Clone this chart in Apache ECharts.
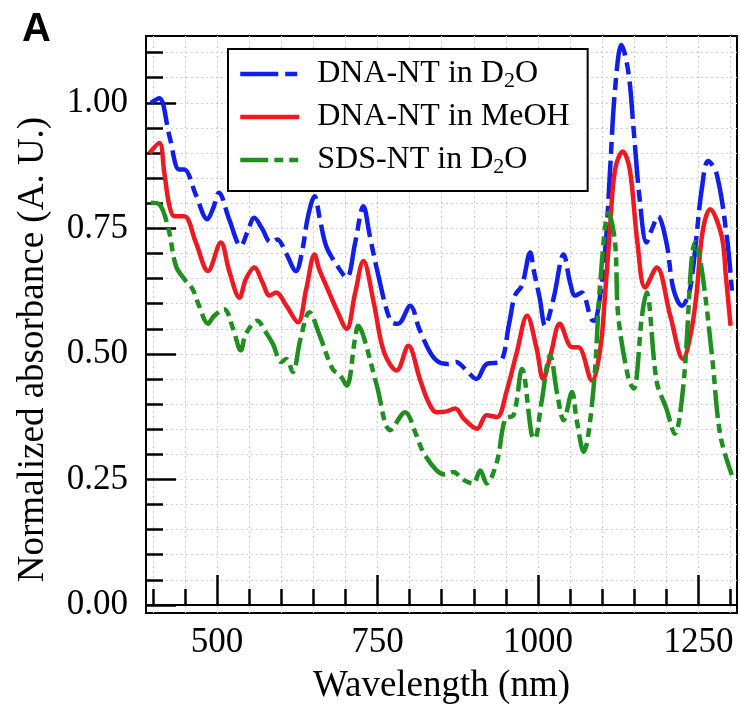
<!DOCTYPE html>
<html>
<head>
<meta charset="utf-8">
<script src="https://cdn.jsdelivr.net/npm/echarts@6/dist/echarts.min.js"></script>
<style>
html,body{margin:0;padding:0;background:#ffffff;}
#chart{width:740px;height:710px;}
</style>
</head>
<body>
<div id="chart"></div>
<script>
// ---- data ----
const seriesNames = ['DNA-NT in D2O', 'DNA-NT in MeOH', 'SDS-NT in D2O'];

const wlBlue = [397,410,426,441,449,467,485,494,503,519,537,548,558,570,584,594,607,623,632,642,652,660,670,685,702,715,728,738,749,770,782,801,815,832,845,860,873,880,890,904,
  920,941,955,964,975,988,993,1003,1011,1024,1040,1050,1058,1068,1086,1091,1104,1112,1120,1130,1141,1149,1159,1169,1178,1187,1200,1211,1224,1235,1242,1247,1255,1265,1278,1294,1302];
const absBlue = [1.000,1.009,0.933,0.867,0.867,0.817,0.768,0.790,0.821,0.768,0.715,0.745,0.771,0.750,0.722,0.728,0.702,0.665,0.700,0.775,0.814,0.770,0.715,0.680,0.652,0.720,0.794,0.735,0.669,0.566,0.560,0.596,0.550,0.503,0.484,0.480,0.484,0.478,0.465,0.450,
  0.480,0.484,0.560,0.616,0.636,0.702,0.669,0.609,0.556,0.609,0.698,0.642,0.616,0.622,0.566,0.569,0.695,0.860,1.026,1.115,1.059,0.946,0.801,0.722,0.750,0.774,0.722,0.629,0.596,0.620,0.675,0.735,0.827,0.884,0.860,0.735,0.626];

const wlRed = [395,410,418,426,434,449,467,486,506,519,535,545,558,571,582,592,608,626,639,652,659,670,686,702,715,728,744,760,780,798,816,829,842,856,871,885,905,920,936,951,
  967,983,998,1008,1020,1034,1053,1063,1084,1097,1104,1112,1120,1132,1143,1155,1167,1185,1206,1226,1238,1247,1256,1268,1286,1293,1300];
const absRed = [0.900,0.920,0.860,0.794,0.774,0.774,0.722,0.665,0.722,0.665,0.612,0.649,0.672,0.642,0.616,0.622,0.596,0.563,0.629,0.698,0.669,0.636,0.589,0.550,0.620,0.685,0.603,0.504,0.467,0.516,0.450,0.405,0.384,0.385,0.391,0.370,0.351,0.378,0.374,0.425,
  0.503,0.576,0.510,0.450,0.500,0.560,0.513,0.513,0.447,0.510,0.609,0.748,0.867,0.903,0.867,0.720,0.632,0.672,0.576,0.490,0.540,0.620,0.740,0.788,0.735,0.650,0.556];

const wlGreen = [397,410,424,436,449,462,472,486,495,511,525,537,545,563,575,587,600,608,618,630,644,659,680,692,702,715,720,728,749,770,793,810,821,842,855,868,884,899,910,920,
  936,949,962,975,990,995,1005,1019,1030,1040,1053,1060,1071,1086,1097,1110,1120,1125,1141,1149,1162,1169,1185,1200,1213,1226,1245,1255,1271,1284,1302];
const absGreen = [0.801,0.798,0.751,0.675,0.649,0.629,0.596,0.560,0.575,0.589,0.550,0.507,0.540,0.566,0.545,0.520,0.484,0.490,0.464,0.530,0.583,0.540,0.470,0.457,0.437,0.530,0.556,0.536,0.437,0.348,0.384,0.340,0.305,0.268,0.260,0.265,0.249,0.242,0.268,0.242,
  0.285,0.371,0.378,0.470,0.340,0.331,0.400,0.497,0.420,0.368,0.424,0.370,0.305,0.424,0.642,0.781,0.722,0.576,0.450,0.431,0.576,0.622,0.444,0.391,0.341,0.431,0.722,0.669,0.497,0.338,0.259];

const xMajorTicks = [500, 750, 1000, 1250];
const xMinorTicks = [400,450,500,550,600,650,700,750,800,850,900,950,1000,1050,1100,1150,1200,1250,1300];
const yMajorTicks = [0, 0.25, 0.5, 0.75, 1.0];
const yMinorTicks = [0,0.05,0.10,0.15,0.20,0.25,0.30,0.35,0.40,0.45,0.50,0.55,0.60,0.65,0.70,0.75,0.80,0.85,0.90,0.95,1.00,1.05,1.10];

const X_MIN = 389.4, X_MAX = 1310;
const Y_MIN = -0.016, Y_MAX = 1.133;

// ---- build ----
const zip = (xs, ys) => xs.map((x, i) => [x, ys[i]]);
const serif = 'Liberation Serif';
const colors = ['#1020ea', '#ee1a22', '#1f8f1f'];

const chart = echarts.init(document.getElementById('chart'), null, {renderer: 'canvas'});

const legendLabels = {
  'DNA-NT in D2O': '{n|DNA-NT in D}{s|2}{n|O}',
  'DNA-NT in MeOH': '{n|DNA-NT in MeOH}',
  'SDS-NT in D2O': '{n|SDS-NT in D}{s|2}{n|O}'
};

const gridLine = {show: true, lineStyle: {color: '#cfcfcf', width: 1, type: [2, 3]}};

const option = {
  animation: false,
  backgroundColor: '#ffffff',
  textStyle: {fontFamily: serif, color: '#000'},
  grid: {left: 146, top: 36, right: 3, bottom: 95, show: true, borderColor: '#000', borderWidth: 2, backgroundColor: 'transparent'},
  legend: {
    data: seriesNames,
    orient: 'vertical',
    left: 228, top: 49,
    padding: [7, 18, 13, 10],
    itemGap: 7,
    itemWidth: 59,
    itemHeight: 14,
    backgroundColor: '#ffffff',
    borderColor: '#000',
    borderWidth: 2,
    borderRadius: 0,
    itemStyle: {opacity: 0},
    lineStyle: {width: 4.5},
    formatter: name => legendLabels[name],
    textStyle: {
      color: '#000', fontFamily: serif, fontSize: 32, lineHeight: 36, padding: [0, 0, 0, 13],
      rich: {
        n: {color: '#000', fontFamily: serif, fontSize: 32, lineHeight: 36},
        s: {color: '#000', fontFamily: serif, fontSize: 22, lineHeight: 10, verticalAlign: 'bottom'}
      }
    }
  },
  xAxis: [
    {
      type: 'value', min: X_MIN, max: X_MAX, position: 'bottom',
      name: 'Wavelength (nm)', nameLocation: 'middle', nameGap: 55,
      nameTextStyle: {color: '#000', fontFamily: serif, fontSize: 37},
      axisLine: {show: true, lineStyle: {color: '#000', width: 2}},
      axisTick: {show: true, inside: true, length: 30, customValues: xMajorTicks, lineStyle: {color: '#000', width: 2.5}},
      axisLabel: {show: true, customValues: xMajorTicks, margin: 12, color: '#000', fontFamily: serif, fontSize: 35,
        formatter: v => String(Math.round(v))},
      splitLine: {show: false}
    },
    {
      type: 'value', min: X_MIN, max: X_MAX, position: 'bottom',
      axisLine: {show: false},
      axisTick: {show: true, inside: true, length: 16, customValues: xMinorTicks, lineStyle: {color: '#000', width: 2.5}},
      axisLabel: {show: false},
      splitLine: gridLine
    }
  ],
  yAxis: [
    {
      type: 'value', min: Y_MIN, max: Y_MAX, position: 'left',
      name: 'Normalized absorbance (A. U.)', nameLocation: 'middle', nameGap: 94, nameRotate: 90,
      nameTextStyle: {color: '#000', fontFamily: serif, fontSize: 37, padding: [0, 50, 0, 0]},
      axisLine: {show: true, lineStyle: {color: '#000', width: 2}},
      axisTick: {show: true, inside: true, length: 30, customValues: yMajorTicks, lineStyle: {color: '#000', width: 2.5}},
      axisLabel: {show: true, customValues: yMajorTicks, margin: 18, color: '#000', fontFamily: serif, fontSize: 35,
        formatter: v => Number(v).toFixed(2)},
      splitLine: {show: false}
    },
    {
      type: 'value', min: Y_MIN, max: Y_MAX, position: 'left',
      axisLine: {show: false},
      axisTick: {show: true, inside: true, length: 17, customValues: yMinorTicks, lineStyle: {color: '#000', width: 2.5}},
      axisLabel: {show: false},
      splitLine: gridLine
    }
  ],
  graphic: [
    {type: 'text', left: 22, top: 10, style: {text: 'A', font: 'bold 40px "Liberation Sans", Arial, sans-serif', fill: '#000'}}
  ],
  series: [
    {name: seriesNames[0], type: 'line', xAxisIndex: 0, yAxisIndex: 0, data: zip(wlBlue, absBlue), smooth: 0.35,
      showSymbol: false, symbol: 'none', clip: true, z: 3,
      lineStyle: {color: colors[0], width: 4.5, type: [38, 7, 12, 7]}, itemStyle: {color: colors[0]}},
    {name: seriesNames[1], type: 'line', xAxisIndex: 0, yAxisIndex: 0, data: zip(wlRed, absRed), smooth: 0.35,
      showSymbol: false, symbol: 'none', clip: true, z: 4,
      lineStyle: {color: colors[1], width: 4.5, type: 'solid'}, itemStyle: {color: colors[1]}},
    {name: seriesNames[2], type: 'line', xAxisIndex: 0, yAxisIndex: 0, data: zip(wlGreen, absGreen), smooth: 0.35,
      showSymbol: false, symbol: 'none', clip: true, z: 5,
      lineStyle: {color: colors[2], width: 4.5, type: [28, 6, 9, 6, 9, 6]}, itemStyle: {color: colors[2]}}
  ]
};
chart.setOption(option);
</script>
</body>
</html>
